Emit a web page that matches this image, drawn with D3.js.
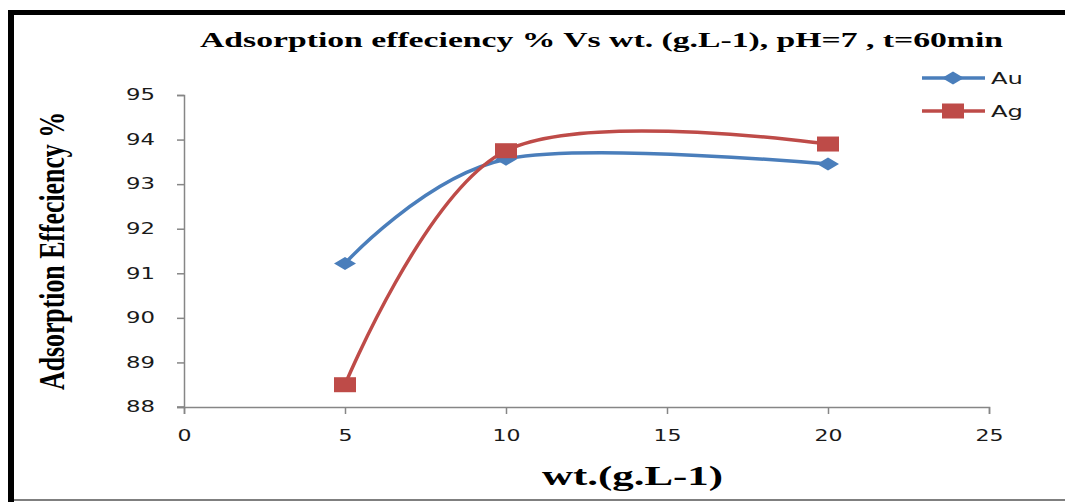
<!DOCTYPE html>
<html>
<head>
<meta charset="utf-8">
<script src="https://cdn.jsdelivr.net/npm/d3@7"></script>
<style>
  body { margin: 0; background: #fff; }
  svg { display: block; }
</style>
</head>
<body>
<div id="chart"></div>
<script>
// data
const weights = [5, 10, 20]
const auValues = [91.22, 93.56, 93.45]
const agValues = [88.5, 93.75, 93.9]
const xTicks = [0, 5, 10, 15, 20, 25]
const yTicks = [88, 89, 90, 91, 92, 93, 94, 95]
const seriesNames = ['Au', 'Ag']
const colors = ['#4A7EBB', '#BE4B48']

const W = 1065
const H = 502
const margin = { top: 95, right: 76, bottom: 95, left: 184 }

const svg = d3.select('#chart')
  .append('svg')
  .attr('width', W)
  .attr('height', H)

svg.append('rect').attr('width', W).attr('height', H).attr('fill', '#fff')

// frame (black left/top, gray bottom)
svg.append('rect').attr('x', 8).attr('y', 10).attr('width', 6).attr('height', H - 10).attr('fill', '#000')
svg.append('rect').attr('x', 8).attr('y', 10).attr('width', W - 8).attr('height', 5).attr('fill', '#000')
svg.append('rect').attr('x', 14).attr('y', 499).attr('width', W - 14).attr('height', 2).attr('fill', '#7f7f7f')

const x = d3.scaleLinear().domain([0, 25]).range([margin.left, W - margin.right])
const y = d3.scaleLinear().domain([88, 95]).range([H - margin.bottom, margin.top])

const axisColor = '#868686'

// y axis
const gy = svg.append('g')
  .attr('transform', 'translate(' + margin.left + ',0)')
  .call(d3.axisLeft(y).tickValues(yTicks).tickSize(7).tickPadding(22).tickFormat(d3.format('d')))
gy.select('.domain').attr('stroke', axisColor).attr('stroke-width', 1.5)
gy.selectAll('.tick line').attr('stroke', axisColor).attr('stroke-width', 1.5)
gy.selectAll('.tick text')
  .attr('fill', '#1a1a1a')
  .style('font-family', 'DejaVu Sans, sans-serif')
  .style('font-size', '15px')
  .attr('textLength', d => String(d).length * 14.5)
  .attr('lengthAdjust', 'spacingAndGlyphs')

// x axis
const gx = svg.append('g')
  .attr('transform', 'translate(0,' + (H - margin.bottom) + ')')
  .call(d3.axisBottom(x).tickValues(xTicks).tickSize(7).tickPadding(16).tickFormat(d3.format('d')))
gx.select('.domain').attr('stroke', axisColor).attr('stroke-width', 1.5)
gx.selectAll('.tick line').attr('stroke', axisColor).attr('stroke-width', 1.5)
gx.selectAll('.tick text')
  .attr('fill', '#1a1a1a')
  .style('font-family', 'DejaVu Sans, sans-serif')
  .style('font-size', '15px')
  .attr('textLength', d => String(d).length * 14)
  .attr('lengthAdjust', 'spacingAndGlyphs')

// small stub crossing to the left at the origin
svg.append('line')
  .attr('x1', margin.left - 7).attr('x2', margin.left)
  .attr('y1', y(88)).attr('y2', y(88))
  .attr('stroke', axisColor).attr('stroke-width', 1.5)

// titles
svg.append('text')
  .attr('x', 200).attr('y', 47)
  .attr('textLength', 803).attr('lengthAdjust', 'spacingAndGlyphs')
  .style('font-family', 'Liberation Serif, serif')
  .style('font-weight', 'bold')
  .style('font-size', '22px')
  .attr('fill', '#000')
  .text('Adsorption effeciency % Vs wt. (g.L-1), pH=7 , t=60min')

svg.append('text')
  .attr('transform', 'translate(64,390) rotate(-90)')
  .attr('textLength', 278).attr('lengthAdjust', 'spacingAndGlyphs')
  .style('font-family', 'Liberation Serif, serif')
  .style('font-weight', 'bold')
  .style('font-size', '36px')
  .attr('fill', '#000')
  .text('Adsorption Effeciency %')

svg.append('text')
  .attr('x', 542).attr('y', 485)
  .attr('textLength', 181).attr('lengthAdjust', 'spacingAndGlyphs')
  .style('font-family', 'Liberation Serif, serif')
  .style('font-weight', 'bold')
  .style('font-size', '28px')
  .attr('fill', '#000')
  .text('wt.(g.L-1)')

// lines
const series = [auValues, agValues].map((vals, i) => ({
  name: seriesNames[i],
  color: colors[i],
  points: weights.map((w, j) => ({ w: w, v: vals[j] }))
}))

const line = d3.line()
  .x(d => x(d.w))
  .y(d => y(d.v))
  .curve(d3.curveCardinal.tension(0))

svg.selectAll('.series')
  .data(series)
  .enter()
  .append('path')
  .attr('class', 'series')
  .attr('d', d => line(d.points))
  .attr('fill', 'none')
  .attr('stroke', d => d.color)
  .attr('stroke-width', 3.5)

// markers: diamonds for Au, squares for Ag (a bit wider than tall like the picture)
function diamond (g, cx, cy, color) {
  g.append('path')
    .attr('d', 'M' + (cx - 11) + ',' + cy + 'L' + cx + ',' + (cy - 6.5) + 'L' + (cx + 11) + ',' + cy + 'L' + cx + ',' + (cy + 6.5) + 'Z')
    .attr('fill', color)
}
function square (g, cx, cy, color) {
  g.append('rect')
    .attr('x', cx - 11).attr('y', cy - 7.5)
    .attr('width', 22).attr('height', 15)
    .attr('fill', color)
}

const marks = svg.append('g')
series[0].points.forEach(p => diamond(marks, x(p.w), y(p.v), colors[0]))
series[1].points.forEach(p => square(marks, x(p.w), y(p.v), colors[1]))

// legend
const legendY = [78, 111]
seriesNames.forEach((name, i) => {
  const g = svg.append('g')
  g.append('line')
    .attr('x1', 922).attr('x2', 985)
    .attr('y1', legendY[i]).attr('y2', legendY[i])
    .attr('stroke', colors[i]).attr('stroke-width', 3.5)
  if (i === 0) diamond(g, 953, legendY[i], colors[i])
  else square(g, 953, legendY[i], colors[i])
  g.append('text')
    .attr('x', 991).attr('y', legendY[i] + 6)
    .attr('textLength', 32).attr('lengthAdjust', 'spacingAndGlyphs')
    .style('font-family', 'DejaVu Sans, sans-serif')
    .style('font-size', '16px')
    .attr('fill', '#1a1a1a')
    .text(name)
})
</script>
</body>
</html>
